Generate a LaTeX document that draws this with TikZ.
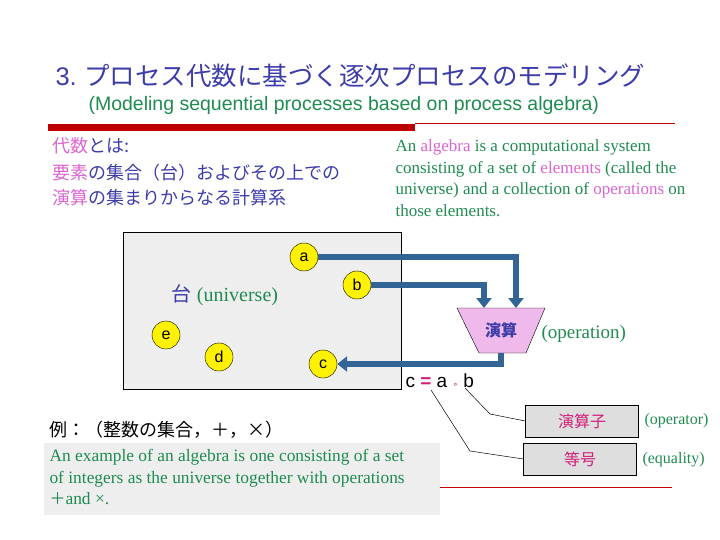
\documentclass[tikz,border=0pt]{standalone}
\usepackage{fontspec}
\setmainfont{Liberation Serif}
\newfontfamily\jp{Noto Sans CJK JP}
\newfontfamily\lsans{Liberation Sans}
\newfontfamily\dsans{DejaVu Sans}
\usetikzlibrary{arrows.meta}
\definecolor{tblue}{RGB}{60,60,170}
\definecolor{tgreen}{RGB}{30,140,80}
\definecolor{tpink}{RGB}{220,100,210}
\definecolor{mag}{RGB}{210,30,120}
\definecolor{arr}{RGB}{50,100,150}
\definecolor{boxg}{RGB}{238,238,238}
\definecolor{opg}{RGB}{222,222,222}
\definecolor{dred}{RGB}{190,0,0}
\tikzset{
 elem/.style={circle,draw=black,fill=yellow,minimum size=28pt,inner sep=0pt,font=\lsans\fontsize{16}{16}\selectfont},
 flow/.style={draw=arr,line width=5.5pt,-{Triangle[length=10pt,width=15pt]}},
 opbox/.style={draw=black,fill=opg,minimum width=113pt,minimum height=32pt,font=\jp\fontsize{16}{16}\selectfont,text=mag},
 lead/.style={draw=black,line width=0.5pt}
}
\begin{document}
\begin{tikzpicture}[x=1pt,y=-1pt]
\useasboundingbox (0,0) rectangle (720,540);
\node[anchor=west,text=tblue,font=\jp\fontsize{25.5}{25.5}\selectfont] (title) at (52,76) {{\lsans 3.} プロセス代数に基づく逐次プロセスのモデリング};
\node[anchor=west,text=tgreen,font=\lsans\fontsize{19.5}{19.5}\selectfont] (sub) at (85,105) {(Modeling sequential processes based on process algebra)};
\fill[dred] (48,124) rectangle (415,131);
\draw[dred,line width=0.7pt] (415,123.5) -- (675,123.5);
\node[anchor=north west,align=left,text=tblue,font=\jp\fontsize{18}{25}\selectfont] (def) at (49,134) {\textcolor{tpink}{代数}とは:\\[2pt]\textcolor{tpink}{要素}の集合（台）およびその上での\\\textcolor{tpink}{演算}の集まりからなる計算系};
\node[anchor=north west,align=left,text=tgreen,font=\fontsize{17}{21.7}\selectfont] (eng) at (392,136) {An \textcolor{tpink}{algebra} is a computational system\\consisting of a set of \textcolor{tpink}{elements} (called the\\universe) and a collection of \textcolor{tpink}{operations} on\\those elements.};
\draw[fill=boxg,draw=black] (123,232) rectangle (401,389);
\node[font=\fontsize{20}{20}\selectfont,text=tgreen] (univ) at (225,295) {\textcolor{tblue}{\jp 台} (universe)};
\node[elem] (a) at (304,257) {a};
\node[elem] (b) at (357,285) {b};
\node[elem] (e) at (166,335) {e};
\node[elem] (d) at (219,357) {d};
\node[elem] (c) at (323,364) {c};
\draw[fill=tpink!45,draw=black] (457,308) -- (545,308) -- (526,353) -- (479,353) -- cycle;
\node[text=tblue,font=\jp\bfseries\fontsize{16}{16}\selectfont] (op) at (501,330) {演算};
\coordinate (opa) at (516,308);
\coordinate (opb) at (484,308);
\coordinate (opo) at (501,353);
\draw[flow] (a.east) -| (opa);
\draw[flow] (b.east) -| (opb);
\draw[flow] (opo) |- (c.east);
\node[text=tgreen,font=\fontsize{19}{19}\selectfont,anchor=west] (opl) at (538,334) {(operation)};
\node[anchor=west,font=\lsans\fontsize{19}{19}\selectfont] (eq) at (402,381) {c \textcolor{mag}{\textbf{=}} a {\dsans\fontsize{9}{9}\selectfont\textcolor{mag}{∘}} b};
\node[opbox] (opr) at (582,421) {演算子};
\node[opbox] (equ) at (580,459) {等号};
\node[anchor=west,text=tgreen,font=\fontsize{16}{16}\selectfont] (oprl) at (641,421) {(operator)};
\node[anchor=west,text=tgreen,font=\fontsize{16}{16}\selectfont] (equl) at (639,460) {(equality)};
\coordinate (circ) at (465,388);
\coordinate (eqs) at (431,390);
\draw[lead] (circ) -- (490,414) -- (opr.west);
\draw[lead] (eqs) -- (470,451) -- (equ.west);
\node[anchor=west,font=\jp\fontsize{18}{18}\selectfont] (ex) at (46,430) {例：（整数の集合，＋，×）};
\fill[boxg] (44,443) rectangle (440,515);
\node[anchor=north west,align=left,text=tgreen,font=\fontsize{17.4}{21.5}\selectfont] (exe) at (46,446) {An example of an algebra is one consisting of a set\\of integers as the universe together with operations\\{\jp\fontsize{16}{16}\selectfont ＋}and ×.};
\draw[dred,line width=0.7pt] (440,487) -- (672,487);
\end{tikzpicture}
\end{document}
